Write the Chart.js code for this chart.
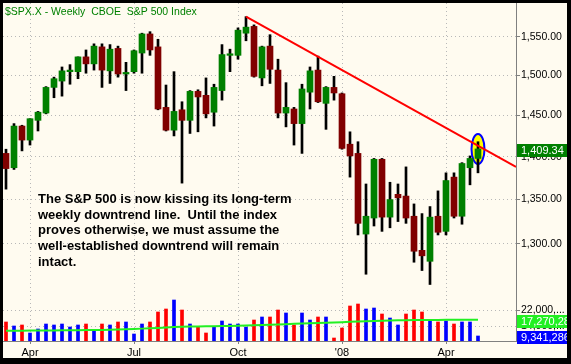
<!DOCTYPE html>
<html>
<head>
<meta charset="utf-8">
<script src="https://cdn.jsdelivr.net/npm/chart.js@4.4.0/dist/chart.umd.min.js"></script>
<style>
  html, body { margin: 0; padding: 0; background: #000; }
  canvas { display: block; }
</style>
</head>
<body>
<canvas id="c" width="571" height="364"></canvas>
<script>
// $SPX.X weekly candles, week of 12 Mar 2007 .. week of 28 Apr 2008 (index = week)
var opens = [1404, 1387, 1437, 1420, 1444, 1453, 1485, 1493, 1505, 1505, 1524, 1515, 1537, 1506, 1535, 1502, 1505, 1529, 1554, 1537,
    1460, 1432, 1457, 1444, 1480, 1475, 1454, 1481, 1526, 1526, 1555, 1564, 1497, 1538, 1507, 1453, 1458, 1440, 1479, 1507,
    1465, 1485, 1477, 1415, 1404, 1311, 1329, 1397, 1330, 1356, 1354, 1331, 1293, 1281, 1331, 1314, 1376, 1331, 1387, 1398];
var highs = [1409, 1440, 1438, 1446, 1455, 1486, 1498, 1511, 1514, 1524, 1533, 1541, 1541, 1540, 1538, 1517, 1533, 1555, 1557, 1547,
    1488, 1505, 1467, 1481, 1482, 1497, 1489, 1540, 1534, 1562, 1577, 1566, 1538, 1553, 1521, 1491, 1460, 1489, 1511, 1525,
    1486, 1499, 1478, 1430, 1418, 1368, 1398, 1398, 1370, 1368, 1388, 1345, 1334, 1342, 1360, 1381, 1381, 1393, 1401, 1418];
var lows = [1362, 1385, 1407, 1414, 1431, 1452, 1472, 1474, 1489, 1496, 1503, 1507, 1485, 1490, 1498, 1481, 1503, 1503, 1526, 1457,
    1431, 1425, 1369, 1428, 1430, 1447, 1437, 1469, 1505, 1521, 1545, 1498, 1487, 1490, 1447, 1436, 1414, 1404, 1458, 1466,
    1433, 1469, 1409, 1376, 1310, 1267, 1320, 1314, 1318, 1325, 1323, 1280, 1271, 1256, 1310, 1310, 1329, 1322, 1367, 1381];
var closes = [1386, 1437, 1420, 1446, 1454, 1485, 1496, 1506, 1507, 1524, 1515, 1538, 1507, 1534, 1502, 1504, 1532, 1554, 1533, 1458,
    1432, 1455, 1444, 1480, 1473, 1452, 1485, 1527, 1528, 1559, 1563, 1499, 1537, 1508, 1453, 1460, 1440, 1483, 1506, 1467,
    1485, 1478, 1410, 1401, 1323, 1331, 1397, 1330, 1350, 1352, 1329, 1292, 1287, 1330, 1313, 1372, 1331, 1392, 1398, 1409.34];
var volumes = [16160000, 14210000, 14700000, 10800000, 12750000, 15180000, 14700000, 15180000, 13720000, 14700000,
    15180000, 11770000, 15180000, 14700000, 16160000, 16160000, 10310000, 15180000, 16160000, 21030000,
    22490000, 26870000, 22000000, 15180000, 13720000, 10800000, 13720000, 16640000, 15180000, 15180000,
    13720000, 17130000, 18590000, 18590000, 22000000, 20540000, 14700000, 20540000, 17130000, 18590000,
    18590000, 8360000, 13230000, 23950000, 24920000, 22490000, 22970000, 20050000, 18100000, 14700000,
    20050000, 22000000, 21030000, 17130000, 16160000, 16640000, 15180000, 16160000, 16160000, 9341286];
var volumeAvg = [11870000, 11900000, 11930000, 11960000, 11990000, 12030000, 12060000, 12100000, 12140000, 12180000,
    12220000, 12260000, 12310000, 12410000, 12520000, 12630000, 12750000, 12930000, 13110000, 13290000,
    13480000, 13680000, 13870000, 13930000, 13990000, 14040000, 14100000, 14150000, 14210000, 14330000,
    14460000, 14580000, 14700000, 14840000, 14980000, 15110000, 15250000, 15390000, 15530000, 15670000,
    15810000, 15950000, 16090000, 16230000, 16350000, 16470000, 16590000, 16710000, 16830000, 16950000,
    17040000, 17130000, 17150000, 17170000, 17190000, 17210000, 17230000, 17250000, 17260000, 17270280];

var tickWeeks = [3, 16, 29, 42, 55];
var tickLabels = ['Apr', 'Jul', 'Oct', "'08", 'Apr'];
var priceTicks = [1300, 1350, 1400, 1450, 1500, 1550];
var volumeTicks = [14000000, 22000000];

// downtrend line from the October high, runs off the right edge
var trendWeeks = [30, 63.75];
var trendPrices = [1577, 1388];

var title = '$SPX.X - Weekly  CBOE  S&P 500 Index';
var note = [
    'The S&P 500 is now kissing its long-term',
    'weekly downtrend line.  Until the index',
    'proves otherwise, we must assume the',
    'well-established downtrend will remain',
    'intact.'
];

var FONT = "'Liberation Sans', Arial, sans-serif";
var GRID = '#b8b8b8';
var AXIS = '#808080';

var candleColors = closes.map((c, i) => c >= opens[i] ? '#008000' : '#800000');
var volumeColors = closes.map((c, i) => c >= (i ? closes[i - 1] : opens[i]) ? '#0000ff' : '#ff0000');

function fmt(v, d) {
    return v.toLocaleString('en-US', {minimumFractionDigits: d, maximumFractionDigits: d});
}

function valueBox(ctx, y, color, text) {
    ctx.fillStyle = color;
    ctx.fillRect(517, Math.round(y - 6.5), 54, 13);
    ctx.fillStyle = '#fff';
    ctx.font = '11px ' + FONT;
    ctx.textBaseline = 'middle';
    ctx.textAlign = 'left';
    ctx.fillText(text, 521, Math.round(y) + 0.5);
}

var decor = {
    id: 'decor',
    beforeDraw(chart) {
        var ctx = chart.ctx;
        ctx.save();
        ctx.fillStyle = '#fffbf0';
        ctx.fillRect(0, 0, chart.width, chart.height);
        ctx.restore();
    },
    beforeDatasetsDraw(chart) {
        // highlight on the last candle
        var ctx = chart.ctx;
        var last = closes.length - 1;
        var x = chart.scales.x.getPixelForValue(last);
        var y = chart.scales.y.getPixelForValue(closes[last]);
        ctx.save();
        ctx.beginPath();
        ctx.ellipse(x, y, 6.5, 15, 0, 0, Math.PI * 2);
        ctx.fillStyle = '#ffff00';
        ctx.fill();
        ctx.lineWidth = 2;
        ctx.strokeStyle = '#0000ff';
        ctx.stroke();
        ctx.restore();
    },
    afterDraw(chart) {
        var ctx = chart.ctx;
        var last = closes.length - 1;
        ctx.save();

        ctx.fillStyle = '#008000';
        ctx.font = '10.5px ' + FONT;
        ctx.textBaseline = 'alphabetic';
        ctx.fillText(title, 5, 15);

        ctx.fillStyle = '#000';
        ctx.font = 'bold 13px ' + FONT;
        note.forEach((line, i) => ctx.fillText(line, 38, 203 + i * 15.7));

        // last values on the right axis
        valueBox(ctx, chart.scales.y.getPixelForValue(closes[last]) + 1.5, '#008000', fmt(closes[last], 2));
        var yAvg = chart.scales.yv.getPixelForValue(volumeAvg[last]) + 1.5;
        valueBox(ctx, yAvg, '#22f022', fmt(volumeAvg[last], 0));
        var yVol = Math.max(chart.scales.yv.getPixelForValue(volumes[last]), yAvg + 16);
        valueBox(ctx, yVol, '#0000ff', fmt(volumes[last], 0));

        // black frame
        ctx.fillStyle = '#000';
        ctx.fillRect(0, 0, chart.width, 3);
        ctx.fillRect(0, 0, 3, chart.height);
        ctx.fillRect(0, 358, chart.width, 6);
        ctx.fillRect(567, 0, 4, chart.height);
        ctx.restore();
    }
};

function fitY(scale) {
    scale.width = 55;
    scale.paddingTop = 0;
    scale.paddingBottom = 0;
}

var ctx = document.getElementById('c').getContext('2d');
var spx = new Chart(ctx, {
    type: 'bar',
    data: {
        datasets: [
            {
                type: 'line',
                data: trendWeeks.map((w, i) => ({x: w, y: trendPrices[i]})),
                yAxisID: 'y',
                borderColor: '#ff0000',
                borderWidth: 2,
                pointRadius: 0,
                order: -2
            },
            {
                data: opens.map((o, i) => ({x: i, y: [o, closes[i]]})),
                yAxisID: 'y',
                backgroundColor: candleColors,
                barThickness: 6,
                grouped: false,
                order: -1
            },
            {
                data: lows.map((l, i) => ({x: i, y: [l, highs[i]]})),
                yAxisID: 'y',
                backgroundColor: '#000',
                barThickness: 2,
                grouped: false,
                order: 0
            },
            {
                data: volumes.map((v, i) => ({x: i, y: v})),
                yAxisID: 'yv',
                backgroundColor: volumeColors,
                barThickness: 3,
                grouped: false,
                order: 0
            },
            {
                type: 'line',
                data: volumeAvg.map((v, i) => ({x: i, y: v})),
                yAxisID: 'yv',
                borderColor: '#22f022',
                borderWidth: 2,
                pointRadius: 0,
                order: -1
            }
        ]
    },
    options: {
        responsive: false,
        animation: false,
        devicePixelRatio: 1,
        layout: {padding: {left: 3, top: 3, right: 0, bottom: 0}},
        plugins: {legend: {display: false}, tooltip: {enabled: false}},
        scales: {
            x: {
                type: 'linear',
                offset: false,
                min: -0.375,
                max: 63.75,
                afterBuildTicks: s => { s.ticks = tickWeeks.map(v => ({value: v})); },
                afterFit: s => { s.height = 23; s.paddingLeft = 0; s.paddingRight = 0; },
                ticks: {
                    autoSkip: false, maxRotation: 0, padding: 2, color: '#000',
                    font: {family: FONT, size: 11},
                    callback: v => tickLabels[tickWeeks.indexOf(v)]
                },
                grid: {offset: false, color: GRID, tickColor: AXIS, tickLength: 3, tickBorderDash: []},
                border: {display: true, color: AXIS, dash: [1, 3]}
            },
            y: {
                type: 'logarithmic',
                position: 'right',
                stack: 'panes',
                stackWeight: 283,
                min: 1254.4,
                max: 1595.4,
                afterBuildTicks: s => { s.ticks = priceTicks.map(v => ({value: v})); },
                afterFit: fitY,
                ticks: {
                    autoSkip: false, padding: 1, color: '#000',
                    font: {family: FONT, size: 10.5},
                    callback: v => fmt(v, 2)
                },
                grid: {color: GRID, tickColor: AXIS, tickLength: 4, tickBorderDash: []},
                border: {display: true, color: AXIS, dash: [1, 3]}
            },
            yv: {
                type: 'linear',
                position: 'right',
                stack: 'panes',
                stackWeight: 55,
                min: 6903000,
                max: 33690000,
                afterBuildTicks: s => { s.ticks = volumeTicks.map(v => ({value: v})); },
                afterFit: fitY,
                ticks: {
                    autoSkip: false, padding: 1, color: '#000',
                    font: {family: FONT, size: 10.5},
                    callback: v => { var s = fmt(v, 0); return s.length > 7 ? s.slice(0, 6) + ',...' : s; }
                },
                grid: {color: GRID, tickColor: AXIS, tickLength: 4, tickBorderDash: []},
                border: {display: true, color: AXIS, dash: [1, 3]}
            }
        }
    },
    plugins: [decor]
});
</script>
</body>
</html>
